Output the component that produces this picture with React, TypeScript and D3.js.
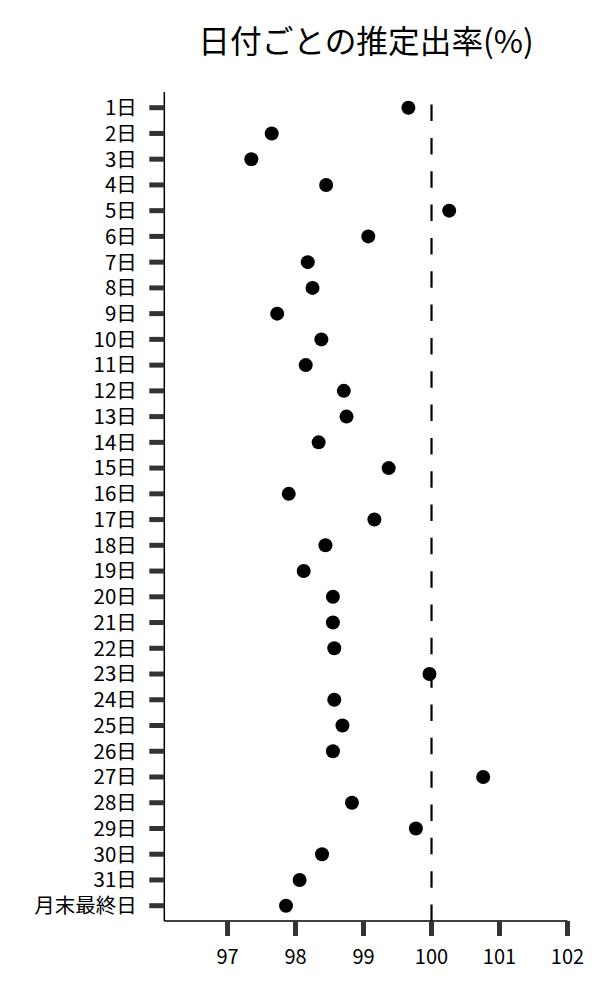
import React from "react";
import * as d3 from "d3";

const categories: string[] = [
  "1日", "2日", "3日", "4日", "5日", "6日", "7日", "8日", "9日", "10日",
  "11日", "12日", "13日", "14日", "15日", "16日", "17日", "18日", "19日", "20日",
  "21日", "22日", "23日", "24日", "25日", "26日", "27日", "28日", "29日", "30日",
  "31日", "月末最終日",
];

const values: number[] = [
  99.66, 97.65, 97.35, 98.45, 100.26, 99.07, 98.18, 98.25, 97.73, 98.38,
  98.15, 98.71, 98.75, 98.34, 99.37, 97.9, 99.16, 98.44, 98.12, 98.55,
  98.55, 98.57, 99.97, 98.57, 98.69, 98.55, 100.76, 98.83, 99.77, 98.39,
  98.06, 97.86,
];

const xTicks: number[] = [97, 98, 99, 100, 101, 102];
const referenceValue = 100;
const title = "日付ごとの推定出率(%)";

const FONT = "'Noto Sans CJK JP', 'Noto Sans', sans-serif";

export default function App() {
  const width = 600;
  const height = 1000;
  const left = 164.3;
  const right = 567.5;
  const top = 92;
  const bottom = 921;

  const x = d3.scaleLinear().domain([96.07, 102]).range([left, right]);
  const y = d3.scalePoint<string>().domain(categories).range([107.7, 905.7]);

  return (
    <svg
      width={width}
      height={height}
      style={{ position: "absolute", left: 0, top: 0, background: "#fff" }}
      fontFamily={FONT}
    >
      <text x={366} y={53} textAnchor="middle" fontSize={31.7} fill="#000">
        {title}
      </text>

      {/* reference line */}
      <line
        x1={x(referenceValue)}
        x2={x(referenceValue)}
        y1={bottom}
        y2={top}
        stroke="#000"
        strokeWidth={2.2}
        strokeDasharray="16.5 16.83"
      />

      {/* axes lines */}
      <line x1={left} x2={left} y1={top} y2={bottom} stroke="#000" strokeWidth={1.5} />
      <line x1={left} x2={right} y1={bottom} y2={bottom} stroke="#000" strokeWidth={1.5} />

      {/* y ticks + labels */}
      {categories.map((c) => (
        <g key={c}>
          <line x1={left - 15} x2={left} y1={y(c)} y2={y(c)} stroke="#333" strokeWidth={5} />
          <text
            x={left - 27.5}
            y={y(c)}
            dy="0.36em"
            textAnchor="end"
            fontSize={20.5}
            fill="#000"
          >
            {c}
          </text>
        </g>
      ))}

      {/* x ticks + labels */}
      {xTicks.map((t) => (
        <g key={t}>
          <line x1={x(t)} x2={x(t)} y1={bottom} y2={bottom + 15} stroke="#333" strokeWidth={5} />
          <text x={x(t)} y={964.3} textAnchor="middle" fontSize={20} fill="#000">
            {t}
          </text>
        </g>
      ))}

      {/* points */}
      {values.map((v, i) => (
        <circle key={i} cx={x(v)} cy={y(categories[i])} r={7} fill="#000" />
      ))}
    </svg>
  );
}
